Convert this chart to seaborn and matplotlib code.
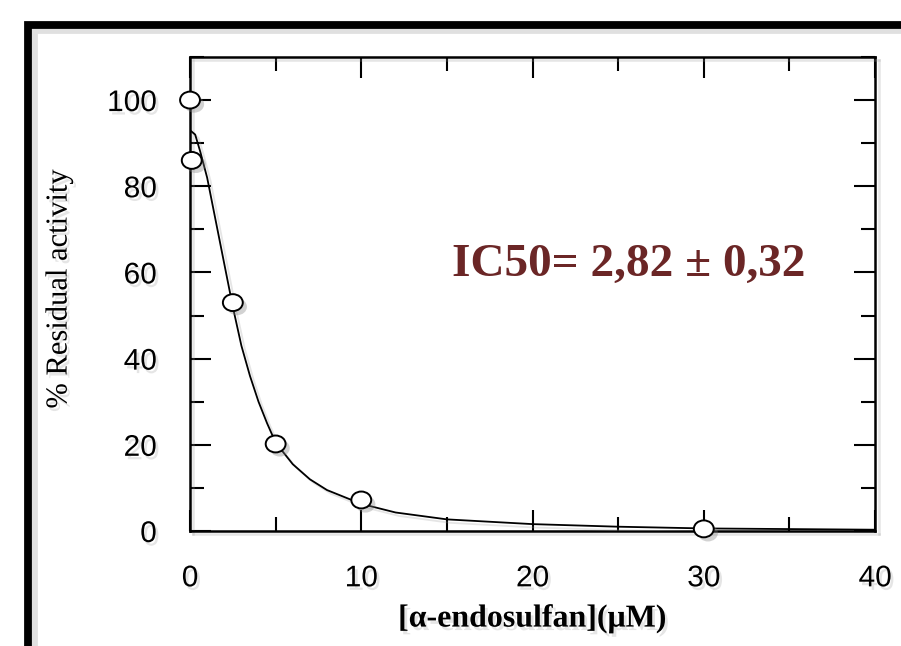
import numpy as np
import pandas as pd
import matplotlib
matplotlib.use("Agg")
import matplotlib.pyplot as plt
import matplotlib.patheffects as pe
from matplotlib.patches import Rectangle
from matplotlib.path import Path
from matplotlib.transforms import Affine2D
from matplotlib.ticker import MultipleLocator
import seaborn as sns

# measured points
conc = [0, 0.1, 2.5, 5, 10, 30]
activity = [100, 86, 53, 20.2, 7.2, 0.5]

# fitted curve
fit_conc = [0, 0.3, 0.6, 1.0, 1.5, 2.0, 2.5, 3.0, 3.5, 4.0, 4.5, 5.0, 6.0, 7.0,
            8.0, 10, 12, 15, 20, 25, 30, 35, 40]
fit_activity = [93, 92, 88, 82, 72, 62, 52, 43, 36, 30, 25, 20.5, 15.5, 12,
                9.5, 6.3, 4.3, 2.7, 1.6, 1.0, 0.6, 0.45, 0.3]

x_ticks = [0, 10, 20, 30, 40]
y_ticks = [0, 20, 40, 60, 80, 100]

sns.set_style("ticks")
plt.rcParams['font.family'] = ['Liberation Sans', 'DejaVu Sans']
serif = ["Liberation Serif", "DejaVu Serif"]

fig = plt.figure(figsize=(9.01, 6.46), dpi=100)
ax = fig.add_axes([0.2109, 0.178, 0.7603, 0.7338])

shadow_txt = [pe.withSimplePatchShadow(offset=(2, -2.5), shadow_rgbFace='0.6', alpha=0.25)]
shadow_line = [pe.SimpleLineShadow(offset=(2.5, -2.5), shadow_color='0.6', alpha=0.25), pe.Normal()]

# the markers in the picture are a bit wider than tall
oval = Path.unit_circle().transformed(Affine2D().scale(1.0, 0.85))

df_fit = pd.DataFrame({"conc": fit_conc, "act": fit_activity})
df_pts = pd.DataFrame({"conc": conc, "act": activity})

sns.lineplot(data=df_fit, x="conc", y="act", ax=ax, color="black", lw=1.3,
             path_effects=shadow_line, zorder=3)
sns.scatterplot(data=df_pts, x="conc", y="act", ax=ax, marker=oval, s=205,
                facecolor="white", edgecolor="black", linewidth=1.4,
                clip_on=False, zorder=6,
                path_effects=[pe.SimplePatchShadow(offset=(3, -3), shadow_rgbFace='0.5', alpha=0.35), pe.Normal()])

ax.set_xlim(0, 40)
ax.set_ylim(0, 110)
ax.set_xticks(x_ticks)
ax.set_yticks(y_ticks)
ax.xaxis.set_minor_locator(MultipleLocator(5))
ax.yaxis.set_minor_locator(MultipleLocator(10))
ax.tick_params(which="both", direction="in", top=True, right=True, width=1.5,
               color="black", labelcolor="black", labelsize=21.5, pad=24)
ax.tick_params(which="major", length=15)
ax.tick_params(which="minor", length=10)
for lbl in ax.get_xticklabels() + ax.get_yticklabels():
    lbl.set_path_effects(shadow_txt)

for side in ["left", "right", "top", "bottom"]:
    ax.spines[side].set_linewidth(1.8)
    ax.spines[side].set_color("black")
    ax.spines[side].set_path_effects(shadow_line)

ax.set_xlabel("[α-endosulfan](μM)", fontsize=23, family=serif, color="black",
              fontweight="semibold", path_effects=shadow_txt)
ax.set_ylabel("% Residual activity", fontsize=22, family=serif, color="black",
              path_effects=shadow_txt)
ax.xaxis.set_label_coords(0.5, -0.155)
ax.yaxis.set_label_coords(-0.17, 0.51)

ax.text(25.6, 59.3, "IC50= 2,82 ± 0,32", fontsize=34, fontweight="bold",
        family=serif, color="#6b2626", ha="center", va="baseline")

# black picture frame around everything
frame = Rectangle((28.5 / 901, -0.0035), 1.05, 0.962 + 0.0035, transform=fig.transFigure,
                  fill=False, lw=5.6, edgecolor="black", clip_on=False,
                  path_effects=[pe.SimpleLineShadow(offset=(4, -4), shadow_color='0.6', alpha=0.3), pe.Normal()])
fig.patches.append(frame)

fig.savefig("out.png", dpi=100)
